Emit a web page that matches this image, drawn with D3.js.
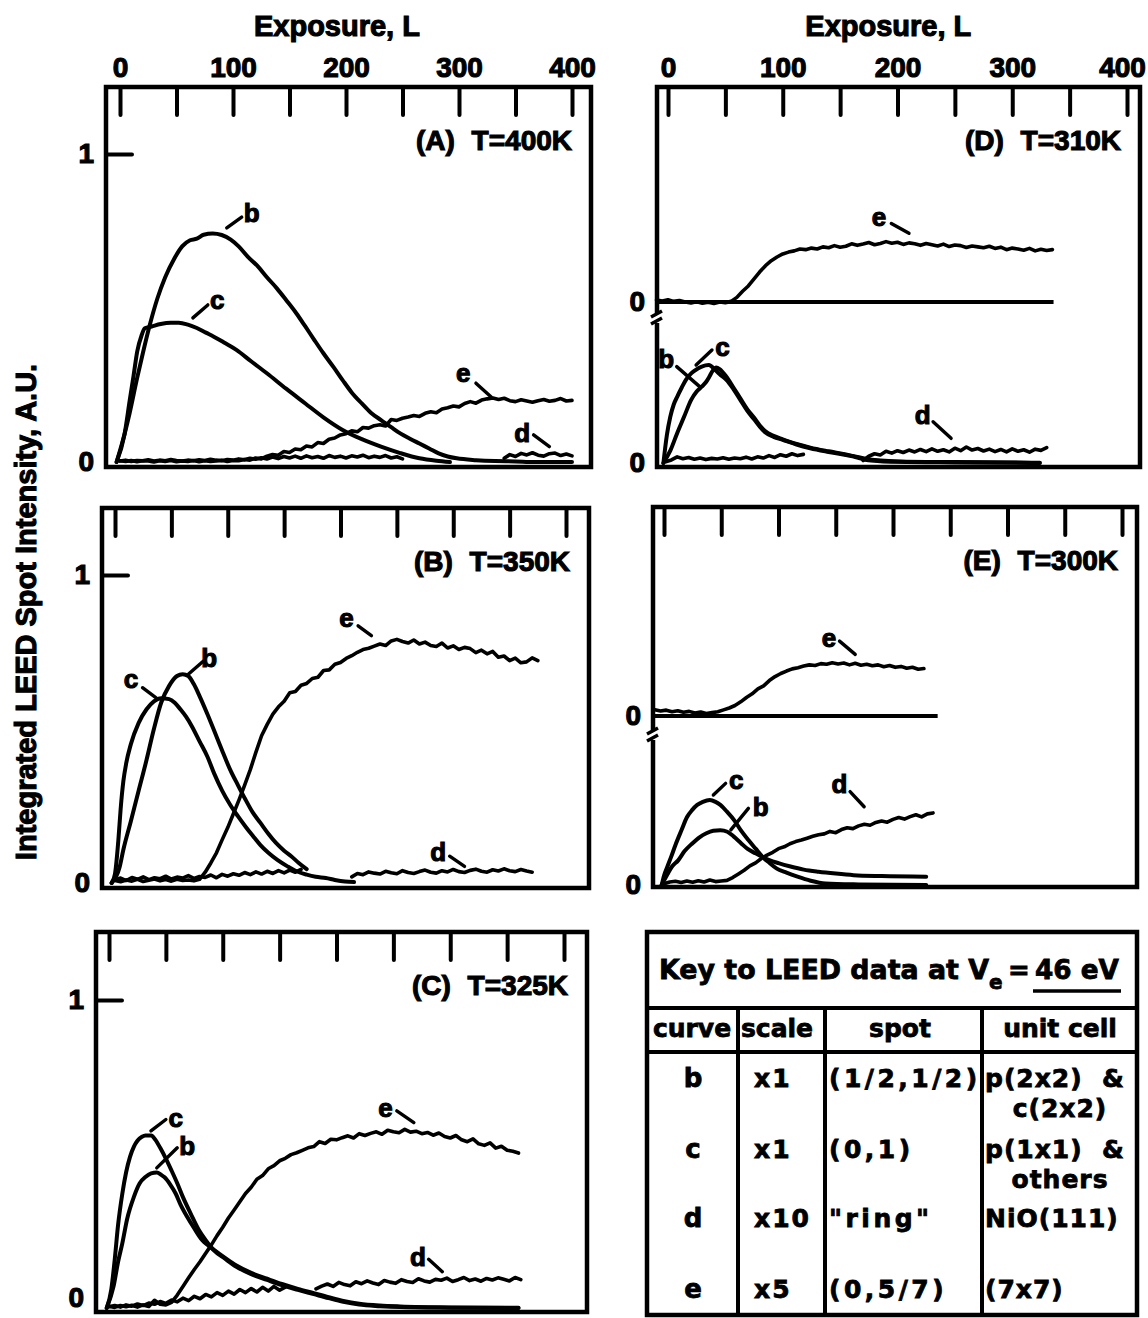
<!DOCTYPE html>
<html>
<head>
<meta charset="utf-8">
<script src="https://cdn.jsdelivr.net/npm/d3@7"></script>
<style>
  html, body { margin: 0; padding: 0; background: #fff; }
  svg { display: block; }
</style>
</head>
<body>
<svg id="fig" width="1148" height="1318"></svg>
<script>
// Data
// Exposure (L) / intensity (A.U.).
// Smooth curves as [L, v] pairs; noisy traces as {L0, dL, v}.

const TICKS = [0, 50, 100, 150, 200, 250, 300, 350, 400];
const TICK_LABELS = [0, 100, 200, 300, 400];

// (A) T=400K
const A_b = [[-3,0],[4,0.09],[8.6,0.16],[15,0.27],[20,0.35],[26,0.44],[33,0.53],[40,0.6],[48,0.66],[55,0.70],[62,0.72],[68,0.725],[74,0.738],[82,0.742],[90,0.737],[98,0.722],[105,0.70],[113,0.667],[122,0.635],[130,0.60],[139,0.563],[147,0.526],[156,0.483],[164,0.44],[172,0.396],[180,0.353],[189,0.308],[197,0.266],[205,0.226],[214,0.19],[222,0.16],[231,0.136],[240,0.113],[248,0.093],[257,0.075],[265,0.06],[274,0.043],[282,0.028],[290,0.018],[298,0.012],[315,0.006],[332,0.003],[350,0.002],[366,0],[400,0]];
const A_c = [[-3,0],[4,0.09],[8.6,0.2],[12,0.28],[15.3,0.36],[19,0.41],[22,0.434],[28,0.44],[36,0.448],[45,0.452],[52,0.452],[60,0.446],[68,0.435],[76,0.42],[83,0.407],[92,0.388],[103,0.364],[116,0.327],[130,0.288],[147,0.238],[164,0.19],[180,0.145],[197,0.104],[214,0.074],[231,0.05],[248,0.029],[265,0.012],[280,0.004],[292,0]];
const A_e = { L0: 0, dL: 5, v: [
  0.004,0.002,0.005,0.001,0.004,0.003,0.000,0.004,0.002,0.005,
  0.001,0.003,0.002,0.005,0.001,0.004,0.002,0.003,0.006,0.002,
  0.005,0.004,0.008,0.006,0.013,0.010,0.019,0.024,0.022,0.034,
  0.031,0.042,0.040,0.052,0.049,0.063,0.060,0.074,0.078,0.088,
  0.092,0.101,0.098,0.112,0.110,0.118,0.121,0.117,0.138,0.135,
  0.142,0.146,0.151,0.148,0.158,0.163,0.160,0.172,0.176,0.182,
  0.179,0.190,0.196,0.191,0.201,0.205,0.208,0.203,0.207,0.199,
  0.196,0.202,0.198,0.194,0.199,0.203,0.197,0.200,0.206,0.198,
  0.200] };
const A_d1 = { L0: 0, dL: 5, v: [
  0.003,0.006,0.002,0.005,0.004,0.007,0.003,0.006,0.004,0.008,
  0.005,0.003,0.006,0.004,0.007,0.005,0.009,0.006,0.004,0.008,
  0.006,0.010,0.007,0.012,0.009,0.014,0.010,0.016,0.011,0.018,
  0.013,0.019,0.012,0.020,0.014,0.018,0.012,0.021,0.015,0.019,
  0.013,0.020,0.016,0.022,0.014,0.019,0.015,0.021,0.013,0.017,
  0.010] };
const A_d2 = { L0: 340, dL: 5, v: [0.012,0.024,0.018,0.028,0.023,0.030,0.022,0.019,0.027,0.029,0.021,0.026,0.020] };

// (B) T=350K
const B_c = [[-3,0],[0,0.03],[3,0.14],[5,0.24],[7.4,0.33],[10,0.39],[14,0.45],[21,0.52],[28,0.564],[34.5,0.59],[41,0.60],[48,0.597],[53,0.585],[58,0.564],[63,0.54],[68,0.51],[75,0.46],[82,0.41],[88,0.355],[95,0.30],[102,0.255],[109,0.217],[116,0.182],[122.5,0.152],[129,0.123],[136,0.098],[144,0.075],[153,0.054],[161,0.038],[170,0.027],[178,0.02],[187,0.016],[195,0.01],[204,0.005],[212,0.003]];
const B_b = [[-3,0],[4,0.05],[7.4,0.108],[14,0.2],[21,0.30],[28,0.40],[34.5,0.50],[41,0.586],[48,0.64],[55,0.672],[60,0.678],[65,0.672],[70,0.645],[75,0.607],[82,0.548],[88.7,0.488],[95,0.43],[102,0.369],[109,0.318],[115.7,0.271],[122,0.23],[129,0.195],[136,0.16],[142.8,0.13],[150,0.105],[156.3,0.087],[163,0.065],[170,0.045]];
const B_e = { L0: 0, dL: 5, v: [
  0.008,0.004,0.010,0.006,0.012,0.005,0.009,0.013,0.007,0.011,
  0.006,0.012,0.008,0.010,0.007,0.012,0.035,0.065,0.098,0.140,
  0.180,0.225,0.270,0.318,0.368,0.425,0.478,0.515,0.548,0.572,
  0.590,0.618,0.622,0.642,0.648,0.664,0.668,0.690,0.692,0.710,
  0.716,0.729,0.738,0.749,0.758,0.762,0.769,0.776,0.771,0.786,
  0.791,0.784,0.779,0.789,0.776,0.782,0.771,0.768,0.779,0.763,
  0.770,0.758,0.765,0.761,0.748,0.756,0.744,0.752,0.733,0.737,
  0.722,0.730,0.715,0.718,0.731,0.722] };
const B_d1 = { L0: 0, dL: 5, v: [
  0.010,0.016,0.008,0.018,0.012,0.020,0.011,0.017,0.014,0.022,
  0.013,0.019,0.016,0.024,0.015,0.021,0.018,0.026,0.017,0.028,
  0.022,0.030,0.025,0.034,0.027,0.036,0.029,0.038,0.031,0.040,
  0.033,0.042,0.035,0.044] };
const B_d2 = { L0: 210, dL: 5, v: [
  0.020,0.031,0.027,0.036,0.032,0.029,0.038,0.033,0.030,0.040,
  0.034,0.031,0.037,0.042,0.035,0.032,0.040,0.036,0.044,0.037,
  0.034,0.041,0.045,0.038,0.035,0.043,0.039,0.046,0.040,0.037,
  0.044,0.039,0.035] };

// (C) T=325K
const C_c = [[-2,0],[2,0.06],[5,0.156],[8,0.27],[11.7,0.371],[15,0.44],[18.4,0.49],[22,0.525],[25,0.543],[29,0.556],[32,0.56],[37,0.56],[41,0.545],[45,0.52],[50,0.485],[55,0.446],[60,0.405],[65,0.36],[72,0.305],[79,0.253],[85,0.22],[92,0.188],[102,0.16],[112,0.134],[125,0.11],[139,0.091],[152,0.074],[166,0.059],[180,0.045],[193,0.032],[206,0.02],[220,0.011],[238,0.006],[256,0.003],[300,0.001],[360,0]];
const C_b = [[-2,0],[4,0.07],[8,0.15],[11.7,0.21],[16,0.29],[21.8,0.36],[27,0.405],[32,0.425],[37,0.437],[42,0.44],[46,0.432],[48.6,0.425],[54,0.40],[58.7,0.371],[63,0.335],[68.7,0.296],[75,0.258],[82,0.22],[87,0.204],[92,0.19],[102,0.163],[112,0.138],[125,0.114],[139,0.095],[152,0.078],[166,0.062],[180,0.048],[193,0.035],[206,0.023],[220,0.014],[238,0.008],[256,0.005],[300,0.002],[360,0.001]];
const C_e = { L0: 0, dL: 5, v: [
  0.006,0.002,0.008,0.004,0.009,0.003,0.010,0.005,0.025,0.012,
  0.010,0.018,0.042,0.070,0.098,0.125,0.150,0.178,0.205,0.235,
  0.262,0.292,0.318,0.345,0.372,0.392,0.418,0.430,0.452,0.462,
  0.478,0.486,0.498,0.504,0.512,0.520,0.524,0.540,0.534,0.548,
  0.546,0.553,0.559,0.552,0.566,0.560,0.567,0.572,0.564,0.577,
  0.572,0.569,0.580,0.571,0.574,0.566,0.570,0.561,0.568,0.557,
  0.552,0.560,0.546,0.540,0.549,0.533,0.528,0.536,0.519,0.525,
  0.512,0.509,0.503] };
const C_d1 = { L0: 0, dL: 5, v: [
  0.004,0.008,0.003,0.010,0.006,0.013,0.008,0.016,0.012,0.021,
  0.015,0.026,0.020,0.032,0.024,0.038,0.030,0.044,0.036,0.050,
  0.041,0.055,0.045,0.060,0.050,0.063,0.052,0.067,0.055,0.070,
  0.058,0.068] };
const C_d2 = { L0: 182, dL: 5, v: [
  0.062,0.071,0.078,0.070,0.083,0.076,0.072,0.085,0.079,0.088,
  0.081,0.076,0.089,0.084,0.080,0.092,0.086,0.083,0.095,0.088,
  0.084,0.093,0.090,0.097,0.086,0.092,0.099,0.089,0.094,0.087,
  0.096,0.091,0.098,0.093,0.088,0.099,0.092] };

// (D) T=310K  (e on the upper baseline, b c d on the lower one)
const D_e = { L0: -10, dL: 5, v: [
  0.006,0.003,0.007,0.002,0.005,0.000,-0.003,0.001,-0.004,-0.001,
  -0.005,0.000,-0.002,0.002,0.015,0.035,0.052,0.075,0.098,0.118,
  0.134,0.146,0.156,0.162,0.166,0.172,0.170,0.175,0.172,0.179,
  0.176,0.183,0.178,0.181,0.189,0.184,0.188,0.193,0.186,0.190,
  0.196,0.191,0.194,0.187,0.192,0.189,0.184,0.190,0.186,0.182,
  0.188,0.180,0.185,0.183,0.177,0.182,0.179,0.176,0.181,0.174,
  0.178,0.170,0.175,0.172,0.168,0.174,0.166,0.171,0.167,0.170] };
const D_c = [[-4,0],[-1,0.09],[2,0.15],[5,0.19],[8,0.215],[12,0.245],[15.6,0.27],[20,0.29],[23.3,0.30],[29.4,0.313],[35.5,0.318],[41.7,0.30],[46,0.285],[50.9,0.27],[57,0.24],[63,0.205],[69,0.17],[75.4,0.14],[80,0.118],[84.6,0.10],[92,0.085],[100,0.075],[112,0.06],[124,0.048],[140,0.036],[155,0.026],[165,0.018],[173,0.01],[185,0.006],[201,0.004],[250,0.002],[324,0]];
const D_b = [[-4,0],[2,0.04],[7.9,0.096],[14,0.15],[20.2,0.205],[25,0.232],[29.4,0.248],[33,0.262],[36,0.28],[39,0.3],[42,0.31],[45,0.305],[50.9,0.28],[57,0.245],[63,0.21],[69,0.175],[75.4,0.145],[80,0.122],[84.6,0.104],[92,0.088],[100,0.077],[112,0.062],[124,0.05],[140,0.038],[155,0.028],[165,0.02],[173,0.013],[185,0.008],[201,0.005],[250,0.003],[324,0.001]];
const D_d1 = { L0: -2, dL: 5, v: [
  0.004,0.010,0.020,0.014,0.018,0.012,0.016,0.011,0.015,0.013,
  0.017,0.012,0.016,0.014,0.019,0.013,0.020,0.016,0.024,0.018,
  0.027,0.022,0.030,0.024,0.028] };
const D_d2 = { L0: 170, dL: 5, v: [
  0.008,0.022,0.030,0.026,0.038,0.032,0.040,0.034,0.042,0.036,
  0.044,0.037,0.046,0.038,0.043,0.036,0.048,0.040,0.052,0.042,
  0.047,0.039,0.045,0.037,0.044,0.036,0.046,0.038,0.043,0.035,
  0.045,0.041,0.050] };

// (E) T=300K
const E_e = { L0: -8, dL: 5, v: [
  0.020,0.016,0.019,0.014,0.017,0.012,0.015,0.010,0.013,0.008,
  0.011,0.014,0.020,0.026,0.034,0.046,0.060,0.072,0.088,0.098,
  0.115,0.128,0.138,0.146,0.153,0.157,0.162,0.166,0.164,0.170,
  0.168,0.173,0.169,0.172,0.166,0.171,0.165,0.168,0.163,0.166,
  0.160,0.164,0.158,0.161,0.155,0.158,0.152,0.154] };
const E_c = [[-2,0],[0,0.03],[3,0.06],[6.3,0.092],[10,0.13],[15.5,0.18],[20,0.22],[24.7,0.244],[29,0.26],[33.9,0.27],[40,0.276],[45,0.27],[49.2,0.26],[55,0.238],[61.4,0.21],[67,0.178],[73.7,0.146],[80,0.118],[85.9,0.092],[92,0.072],[98.2,0.054],[107,0.04],[116.6,0.027],[128,0.014],[141,0.005],[170,0.002],[229,0]];
const E_b = [[-2,0],[3,0.035],[7,0.06],[12.4,0.08],[18,0.11],[24.7,0.135],[31,0.155],[37,0.168],[43,0.176],[49.2,0.178],[55.3,0.173],[61,0.157],[67.5,0.135],[73,0.117],[79.8,0.103],[86,0.091],[92,0.081],[100,0.071],[110.5,0.06],[122,0.05],[135,0.043],[150,0.037],[165.6,0.032],[190,0.029],[229,0.027]];
const E_d = { L0: 0, dL: 5, v: [
  0.004,0.010,0.012,0.008,0.013,0.009,0.014,0.010,0.016,0.011,
  0.013,0.015,0.024,0.036,0.048,0.062,0.072,0.086,0.097,0.106,
  0.118,0.124,0.134,0.141,0.146,0.152,0.158,0.163,0.166,0.174,
  0.170,0.180,0.186,0.183,0.192,0.197,0.194,0.203,0.208,0.204,
  0.213,0.219,0.214,0.222,0.228,0.221,0.231,0.234] };

// curve labels: [text, L, v, leaderL1, leaderV1, leaderL2, leaderV2, section]
const A_labels = [["b",116.6,0.808,94.5,0.76,107.7,0.795],["c",86,0.526,64.5,0.468,77.7,0.51],["e",303.7,0.289,315,0.256,328.5,0.211],["d",356,0.094,366,0.088,380,0.05]];
const B_labels = [["c",14.2,0.662,24.4,0.634,36.2,0.602],["b",83.6,0.732,65,0.678,78.5,0.721],["e",205.4,0.862,215.6,0.835,227.4,0.803],["d",286.6,0.103,296.8,0.087,310,0.054]];
const C_labels = [["c",58.7,0.618,36.9,0.575,50,0.612],["b",68.7,0.527,42,0.455,60,0.52],["e",243,0.65,253,0.64,268,0.602],["d",271.6,0.167,281,0.158,293,0.118]];
const D_labels = [["e",183.9,0.277,194.6,0.255,210,0.223,"up"],["c",47.5,0.378,38.3,0.367,24.5,0.318],["b",-1.5,0.34,7.6,0.313,27.6,0.248],["d",222,0.156,231,0.134,246.7,0.08]];
const E_labels = [["e",144,0.254,153.3,0.243,167,0.2,"up"],["c",63,0.341,53.8,0.33,43.1,0.292],["b",84.4,0.254,73.7,0.249,58.4,0.179],["d",153.3,0.33,162.5,0.303,174.8,0.254]];

// key table
const KEY_HEAD = ["curve", "scale", "spot", "unit cell"];
const KEY_CURVE = ["b", "c", "d", "e"];
const KEY_SCALE = ["x1", "x1", "x10", "x5"];
const KEY_SPOT = ["(1/2,1/2)", "(0,1)", "\"ring\"", "(0,5/7)"];
const KEY_CELL = [["p(2x2)  &", "c(2x2)"], ["p(1x1)  &", "others"], ["NiO(111)"], ["(7x7)"]];

// Layout
const FONT = "'Liberation Sans', Arial, Helvetica, sans-serif";
const TFONT = "'DejaVu Sans', Verdana, sans-serif";
const PX_PER_UNIT = 308;
const FRAME_H = 380;

const noisy = s => s.v.map((v, i) => [s.L0 + i * s.dL, v]);

const panels = [
  { name: "(A)", temp: "T=400K", left: 106, right: 591, top: 87, zero: 462, x0: 120, x400: 572,
    topLabels: true, labels: A_labels,
    series: [[A_b, 1], [A_c, 1], [noisy(A_e), 0], [noisy(A_d1), 0], [noisy(A_d2), 0]] },
  { name: "(B)", temp: "T=350K", left: 102, right: 589, top: 508, zero: 883, x0: 115, x400: 566,
    labels: B_labels,
    series: [[B_c, 1], [B_b, 1], [noisy(B_e), 0], [noisy(B_d1), 0], [noisy(B_d2), 0]] },
  { name: "(C)", temp: "T=325K", left: 96, right: 587, top: 932, zero: 1308, x0: 109, x400: 564,
    labels: C_labels, zeroDy: "-0.06em",
    series: [[C_c, 1], [C_b, 1], [noisy(C_e), 0], [noisy(C_d1), 0], [noisy(C_d2), 0]] },
  { name: "(D)", temp: "T=310K", left: 657, right: 1140, top: 87, zero: 463, zeroUp: 302, breakY: 318, upEnd: 336,
    x0: 668, x400: 1127, topLabels: true, lastDx: -5, labels: D_labels,
    series: [[noisy(D_e), 0, "up"], [D_c, 1], [D_b, 1], [noisy(D_d1), 0], [noisy(D_d2), 0]] },
  { name: "(E)", temp: "T=300K", left: 653, right: 1137, top: 507, zero: 885, zeroUp: 716, breakY: 735, upEnd: 239,
    x0: 664, x400: 1122, labels: E_labels,
    series: [[noisy(E_e), 0, "up"], [E_c, 1], [E_b, 1], [noisy(E_d), 0]] }
];

const svg = d3.select("#fig");
svg.append("rect").attr("width", 1148).attr("height", 1318).attr("fill", "#fff");

function boldText(sel, size) {
  return sel.attr("font-family", FONT).attr("font-weight", "bold").attr("font-size", size)
    .attr("fill", "#000").attr("stroke", "#000").attr("stroke-width", 1.1)
    .attr("paint-order", "stroke");
}

function styleAxis(g, size) {
  g.select(".domain").remove();
  g.attr("font-family", FONT).attr("font-weight", "bold").attr("font-size", size);
  g.selectAll("line").attr("stroke", "#000").attr("stroke-width", 4).attr("stroke-linecap", "round");
  g.selectAll("text").attr("fill", "#000").attr("stroke", "#000").attr("stroke-width", 1.1);
}

panels.forEach(p => {
  const g = svg.append("g");
  const x = d3.scaleLinear().domain([0, 400]).range([p.x0, p.x400]);
  const yLow = d3.scaleLinear().domain([0, 1]).range([p.zero, p.zero - PX_PER_UNIT]);
  const yUp = p.zeroUp ? d3.scaleLinear().domain([0, 1]).range([p.zeroUp, p.zeroUp - PX_PER_UNIT]) : null;
  const yOf = sec => sec === "up" ? yUp : yLow;
  const fmt = d3.format("d");

  // frame
  g.append("rect")
    .attr("x", p.left).attr("y", p.top)
    .attr("width", p.right - p.left).attr("height", FRAME_H)
    .attr("fill", "none").attr("stroke", "#000").attr("stroke-width", 4.5);

  // ticks hanging from the top edge
  g.append("g").attr("transform", `translate(0,${p.top})`)
    .call(d3.axisBottom(x).tickValues(TICKS).tickSize(28).tickFormat(""))
    .call(a => styleAxis(a, 28));

  if (p.topLabels) {
    const ax = g.append("g").attr("transform", `translate(0,${p.top})`)
      .call(d3.axisTop(x).tickValues(TICK_LABELS).tickSize(0).tickPadding(10).tickFormat(fmt))
      .call(a => styleAxis(a, 28));
    if (p.lastDx) ax.selectAll(".tick text").filter(d => d === 400).attr("dx", p.lastDx);
    boldText(g.append("text"), 29)
      .attr("x", x(192)).attr("y", 36).attr("text-anchor", "middle")
      .text("Exposure, L");
  }

  // y labels
  if (p.zeroUp) {
    [yLow, yUp].forEach(ys => {
      g.append("g").attr("transform", `translate(${p.left},0)`)
        .call(d3.axisLeft(ys).tickValues([0]).tickSize(0).tickPadding(12).tickFormat(fmt))
        .call(a => styleAxis(a, 28));
    });
    // upper baseline
    g.append("line")
      .attr("x1", p.left).attr("x2", x(p.upEnd))
      .attr("y1", yUp(0)).attr("y2", yUp(0))
      .attr("stroke", "#000").attr("stroke-width", 4);
    // axis break
    g.append("rect").attr("x", p.left - 4).attr("y", p.breakY - 5).attr("width", 8).attr("height", 10).attr("fill", "#fff");
    g.append("path")
      .attr("d", `M${p.left - 6},${p.breakY - 1} L${p.left + 5},${p.breakY - 7} M${p.left - 6},${p.breakY + 6} L${p.left + 5},${p.breakY}`)
      .attr("stroke", "#000").attr("stroke-width", 3.5).attr("fill", "none");
  } else {
    const ax = g.append("g").attr("transform", `translate(${p.left},0)`)
      .call(d3.axisLeft(yLow).tickValues([0, 1]).tickSize(0).tickPadding(12).tickFormat(fmt))
      .call(a => styleAxis(a, 28));
    if (p.zeroDy) ax.selectAll(".tick text").filter(d => d === 0).attr("dy", p.zeroDy);
    g.append("g").attr("transform", `translate(${p.left},0)`)
      .call(d3.axisRight(yLow).tickValues([1]).tickSize(26).tickFormat(""))
      .call(a => styleAxis(a, 28));
  }

  // curves
  p.series.forEach(([pts, smooth, sec]) => {
    const ys = yOf(sec);
    const line = d3.line()
      .x(d => x(d[0])).y(d => ys(d[1]))
      .curve(smooth ? d3.curveMonotoneX : d3.curveLinear);
    g.append("path").attr("d", line(pts))
      .attr("fill", "none").attr("stroke", "#000")
      .attr("stroke-width", smooth ? 4 : 3.6)
      .attr("stroke-linejoin", "round").attr("stroke-linecap", "round");
  });

  // curve labels with leaders
  p.labels.forEach(([t, L, v, L1, v1, L2, v2, sec]) => {
    const ys = yOf(sec);
    g.append("line")
      .attr("x1", x(L1)).attr("y1", ys(v1)).attr("x2", x(L2)).attr("y2", ys(v2))
      .attr("stroke", "#000").attr("stroke-width", 3.4).attr("stroke-linecap", "round");
    boldText(g.append("text"), 26)
      .attr("x", x(L)).attr("y", ys(v)).attr("dy", "0.36em")
      .attr("text-anchor", "middle").text(t);
  });

  // panel title
  boldText(g.append("text"), 28)
    .attr("x", p.right - 19).attr("y", p.top + 63)
    .attr("text-anchor", "end").attr("word-spacing", 9)
    .text(p.name + " " + p.temp);
});

// y-axis title
boldText(svg.append("text"), 29)
  .attr("transform", "translate(36,612) rotate(-90)")
  .attr("text-anchor", "middle")
  .text("Integrated LEED Spot Intensity, A.U.");

// Key table
const tab = { left: 647, right: 1137, top: 932, bottom: 1315, titleLine: 1008, headLine: 1052 };
const colX = [647, 738, 825, 982, 1137];
const tg = svg.append("g");
const tline = (x1, y1, x2, y2) => tg.append("line")
  .attr("x1", x1).attr("y1", y1).attr("x2", x2).attr("y2", y2)
  .attr("stroke", "#000").attr("stroke-width", 4);

tg.append("rect").attr("x", tab.left).attr("y", tab.top)
  .attr("width", tab.right - tab.left).attr("height", tab.bottom - tab.top)
  .attr("fill", "none").attr("stroke", "#000").attr("stroke-width", 4.5);
tline(tab.left, tab.titleLine, tab.right, tab.titleLine);
tline(tab.left, tab.headLine, tab.right, tab.headLine);
colX.slice(1, 4).forEach(cx => tline(cx, tab.titleLine, cx, tab.bottom));

const ttext = (x, y, s, size, anchor) => tg.append("text")
  .attr("x", x).attr("y", y).attr("text-anchor", anchor || "start")
  .attr("font-family", TFONT).attr("font-weight", "bold").attr("font-size", size)
  .attr("fill", "#000").attr("stroke", "#000").attr("stroke-width", 0.8)
  .attr("xml:space", "preserve").text(s);

ttext(659, 979, "Key to LEED data at V", 26).attr("textLength", 330).attr("lengthAdjust", "spacingAndGlyphs");
ttext(989, 989, "e", 20);
ttext(1019, 979, "=", 26, "middle");
ttext(1035, 979, "46 eV", 26).attr("textLength", 84).attr("lengthAdjust", "spacingAndGlyphs");
tline(1033, 991, 1121, 991).attr("stroke-width", 3.5);

const headX = [692, 777, 900, 1060];
KEY_HEAD.forEach((h, i) => ttext(headX[i], 1037, h, 25, "middle"));

const rowY = [1087, 1158, 1227, 1298];
KEY_CURVE.forEach((c, i) => ttext(693, rowY[i], c, 26, "middle"));
KEY_SCALE.forEach((s, i) => ttext(754, rowY[i], s, 25).attr("letter-spacing", 2));
KEY_SPOT.forEach((s, i) => ttext(829, rowY[i], s, 25).attr("letter-spacing", 3.5));
KEY_CELL.forEach((lines, i) => {
  ttext(985, rowY[i], lines[0], 25).attr("letter-spacing", 1);
  if (lines[1]) ttext(1060, rowY[i] + 30, lines[1], 25, "middle").attr("letter-spacing", 1);
});
</script>
</body>
</html>
